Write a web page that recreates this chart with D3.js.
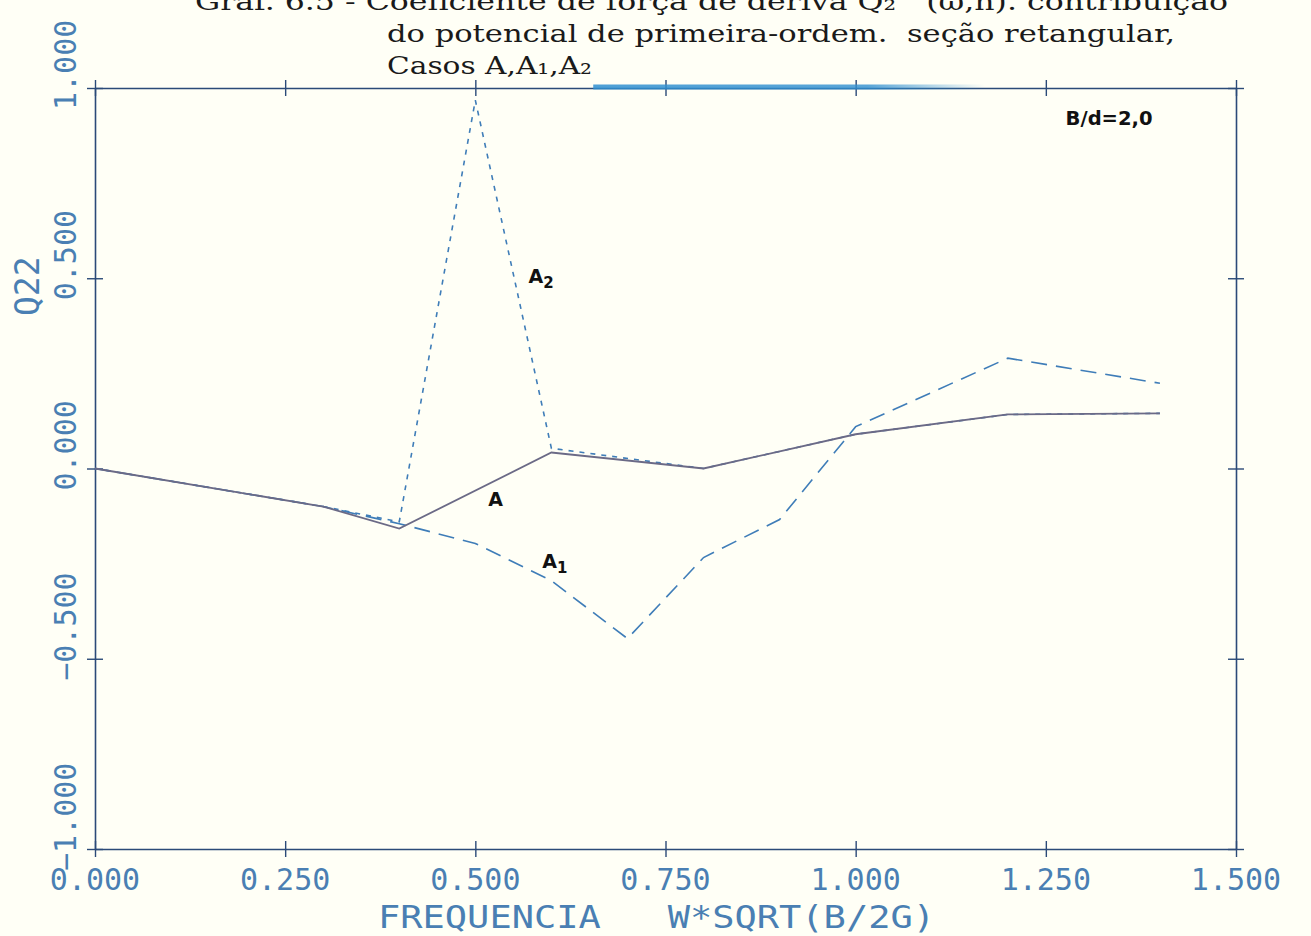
<!DOCTYPE html>
<html>
<head>
<meta charset="utf-8">
<script src="https://cdn.jsdelivr.net/npm/d3@7"></script>
<style>
  body { margin: 0; background: #fffff6; }
  svg { display: block; }
  .plot-font { font-family: "DejaVu Sans Mono", monospace; fill: #4a7fb3; white-space: pre; }
  .title { font-family: "DejaVu Serif", "Liberation Serif", serif; fill: #1a1a1a; white-space: pre; }
  .note { font-family: "DejaVu Sans", Arial, sans-serif; font-weight: bold; fill: #111; }
</style>
</head>
<body>
<div id="chart"></div>
<script>
// dados
const xTicks = [0, 0.25, 0.5, 0.75, 1.0, 1.25, 1.5];
const yTicks = [-1, -0.5, 0, 0.5, 1];

// caso A (linha contínua)
const xA = [0, 0.3, 0.4, 0.6, 0.8, 1.0, 1.2, 1.4];
const yA = [0, -0.10, -0.158, 0.042, 0.0, 0.09, 0.142, 0.145];

// caso A1 (tracejado longo)
const xA1 = [0, 0.3, 0.4, 0.5, 0.6, 0.7, 0.8, 0.9, 1.0, 1.2, 1.4];
const yA1 = [0, -0.10, -0.145, -0.197, -0.295, -0.447, -0.234, -0.134, 0.11, 0.29, 0.224];

// caso A2 (tracejado curto)
const xA2 = [0, 0.3, 0.4, 0.5, 0.6, 0.8, 1.0, 1.2, 1.4];
const yA2 = [0, -0.10, -0.14, 0.968, 0.053, 0.0, 0.09, 0.142, 0.145];

const titleLines = [
  "Graf. 6.5 - Coeficiente de força de deriva Q\u2082   (\u03c9,h). contribuição",
  "do potencial de primeira-ordem.  seção retangular,",
  "Casos A,A\u2081,A\u2082"
];
const titleWidths = [1033, 788, 205];

const W = 1311, H = 936;
const margin = {top: 88, right: 75, bottom: 87, left: 95};
const chtW = W - margin.left - margin.right;
const chtH = H - margin.top - margin.bottom;

const svg = d3.select('#chart').append('svg')
  .attr('width', W).attr('height', H);

svg.append('rect').attr('width', W).attr('height', H).attr('fill', '#fffff6');

const g = svg.append('g')
  .attr('transform', 'translate(' + margin.left + ',' + margin.top + ')');

const x = d3.scaleLinear().domain([0, 1.5]).range([0, chtW]);
const y = d3.scaleLinear().domain([-1, 1]).range([chtH, 0]);

const axisColor = '#2b4a78';

// quadro (eixos nos quatro lados)
const axes = [
  { axis: d3.axisBottom(x), tr: 'translate(0,' + chtH + ')', cls: 'x-bot' },
  { axis: d3.axisTop(x), tr: 'translate(0,0)', cls: 'x-top' },
  { axis: d3.axisLeft(y), tr: 'translate(0,0)', cls: 'y-left' },
  { axis: d3.axisRight(y), tr: 'translate(' + chtW + ',0)', cls: 'y-right' }
];
axes.forEach((a) => {
  const isX = a.cls.startsWith('x');
  const ag = g.append('g')
    .attr('class', a.cls)
    .attr('transform', a.tr)
    .call(a.axis.tickValues(isX ? xTicks : yTicks).tickSizeOuter(0).tickFormat(''));
  ag.select('.domain').attr('stroke', axisColor).attr('stroke-width', 1.6);
  ag.selectAll('.tick line')
    .attr('stroke', axisColor)
    .attr('stroke-width', 1.4)
    .attr(isX ? 'y1' : 'x1', -8)
    .attr(isX ? 'y2' : 'x2', 8);
});

// mancha azul sobre o eixo superior (como no original)
const grad = svg.append('defs').append('linearGradient').attr('id', 'smear');
grad.append('stop').attr('offset', '0%').attr('stop-color', '#2f8fd0').attr('stop-opacity', 0.85);
grad.append('stop').attr('offset', '70%').attr('stop-color', '#2f8fd0').attr('stop-opacity', 0.8);
grad.append('stop').attr('offset', '100%').attr('stop-color', '#2f8fd0').attr('stop-opacity', 0);
g.append('rect')
  .attr('x', x(0.655)).attr('width', x(1.17) - x(0.655))
  .attr('y', -3.5).attr('height', 5)
  .attr('fill', 'url(#smear)');

// rótulos do eixo x
const fmt = d3.format('.3f');
g.selectAll('.xlab')
  .data(xTicks)
  .enter().append('text')
  .attr('class', 'plot-font')
  .attr('x', d => x(d))
  .attr('y', chtH + 41)
  .attr('text-anchor', 'middle')
  .style('font-size', '30px')
  .text(d => fmt(d));

// rótulos do eixo y (girados)
g.selectAll('.ylab')
  .data(yTicks)
  .enter().append('text')
  .attr('class', 'plot-font')
  .attr('transform', d => 'translate(-19,' + (y(d) + 22) + ') rotate(-90)')
  .attr('text-anchor', 'start')
  .style('font-size', '30px')
  .text(d => fmt(d));

// títulos dos eixos
svg.append('text')
  .attr('class', 'plot-font')
  .attr('x', 378).attr('y', 928)
  .style('font-size', '32px')
  .attr('textLength', 557)
  .attr('lengthAdjust', 'spacingAndGlyphs')
  .text('FREQUENCIA   W*SQRT(B/2G)');

svg.append('text')
  .attr('class', 'plot-font')
  .attr('transform', 'translate(39,316) rotate(-90)')
  .style('font-size', '33px')
  .text('Q22');

// título
svg.selectAll('.title')
  .data(titleLines)
  .enter().append('text')
  .attr('class', 'title')
  .attr('x', (d, i) => i === 0 ? 195 : 387)
  .attr('y', (d, i) => 10 + i * 32)
  .attr('textLength', (d, i) => titleWidths[i])
  .attr('lengthAdjust', 'spacingAndGlyphs')
  .style('font-size', '25px')
  .text(d => d);

// curvas
const line = d3.line()
  .x(d => x(d[0]))
  .y(d => y(d[1]));

g.append('path')
  .datum(xA1.map((v, i) => [v, yA1[i]]))
  .attr('fill', 'none')
  .attr('stroke', '#3f7db8')
  .attr('stroke-width', 1.6)
  .attr('stroke-dasharray', '16,9')
  .attr('d', line);

g.append('path')
  .datum(xA2.map((v, i) => [v, yA2[i]]))
  .attr('fill', 'none')
  .attr('stroke', '#3f7db8')
  .attr('stroke-width', 1.6)
  .attr('stroke-dasharray', '5,6')
  .attr('d', line);

g.append('path')
  .datum(xA.map((v, i) => [v, yA[i]]))
  .attr('fill', 'none')
  .attr('stroke', '#6b6a86')
  .attr('stroke-width', 1.8)
  .attr('d', line);

// rótulos das curvas
const notes = [
  { t: 'A', sub: '', xv: 0.517, yv: -0.098 },
  { t: 'A', sub: '1', xv: 0.588, yv: -0.262 },
  { t: 'A', sub: '2', xv: 0.57, yv: 0.487 }
];
notes.forEach((n) => {
  const tx = g.append('text')
    .attr('class', 'note')
    .attr('x', x(n.xv)).attr('y', y(n.yv))
    .style('font-size', '19px')
    .text(n.t);
  if (n.sub) {
    tx.append('tspan').attr('dy', 5).style('font-size', '15px').text(n.sub);
  }
});

g.append('text')
  .attr('class', 'note')
  .attr('x', x(1.276)).attr('y', y(0.903))
  .style('font-size', '20px')
  .attr('textLength', 87)
  .attr('lengthAdjust', 'spacingAndGlyphs')
  .text('B/d=2,0');
</script>
</body>
</html>
